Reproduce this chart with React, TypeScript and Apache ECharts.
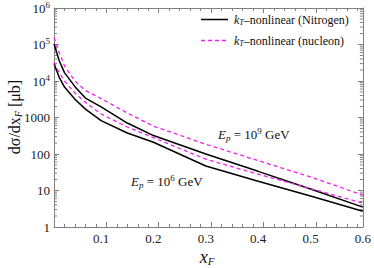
import React, { useEffect, useRef } from 'react';
import * as echarts from 'echarts';

const xF = [0.01, 0.02, 0.03, 0.05, 0.07, 0.1, 0.15, 0.2, 0.3, 0.4, 0.5, 0.6];
const nitrogenE9 = [105000, 36000, 17000, 7000, 3400, 1950, 705, 320, 100, 33.5, 11, 3.5];
const nucleonE9 = [155000, 60000, 26000, 10000, 5500, 3300, 1330, 580, 185, 66, 23.5, 7.5];
const nitrogenE6 = [30000, 12500, 6800, 3150, 1700, 820, 375, 210, 47, 18, 7.1, 2.7];
const nucleonE6 = [32000, 17000, 10000, 4700, 2600, 1250, 550, 280, 72, 28, 11.3, 4.5];
const xTickValues = [0.1, 0.2, 0.3, 0.4, 0.5, 0.6];

const yMinorTicks: number[] = [];
for (let e = 0; e < 6; e++) for (let m = 2; m <= 9; m++) yMinorTicks.push(m * Math.pow(10, e));

const SERIF = 'Liberation Serif';
const MAGENTA = '#f020f0';
const FRAME = '#808080';

export default function App() {
  const ref = useRef<HTMLDivElement>(null);
  useEffect(() => {
    if (!ref.current) return;
    const chart = echarts.init(ref.current, undefined, { renderer: 'svg' });
    const pair = (ys: number[]) => xF.map((x, i) => [x, ys[i]]);
    const xAxisBase = {
      type: 'value',
      min: 0.01,
      max: 0.6,
      axisLine: { show: true, lineStyle: { color: FRAME, width: 1 } },
      splitLine: { show: false },
    };
    const yAxisBase = {
      type: 'log',
      logBase: 10,
      min: 1,
      max: 1000000,
      interval: 1,
      axisLine: { show: true, lineStyle: { color: FRAME, width: 1 } },
      splitLine: { show: false },
      minorTick: { show: false },
    };
    const rich = {
      b: { fontFamily: SERIF, fontSize: 13, color: '#222', lineHeight: 16 },
      s: { fontFamily: SERIF, fontSize: 9, color: '#222', verticalAlign: 'top', lineHeight: 9 },
    };
    const txt = (size: number, extra: any = {}) => ({ fontFamily: SERIF, fontSize: size, fill: '#111', ...extra });
    chart.setOption({
      animation: false,
      textStyle: { fontFamily: SERIF },
      grid: { left: 54, right: 9, top: 8, bottom: 41 },
      xAxis: [
        {
          ...xAxisBase,
          position: 'bottom',
          axisTick: { show: true, inside: true, length: 5, lineStyle: { color: FRAME } },
          minorTick: { show: true, splitNumber: 5, length: 3, lineStyle: { color: FRAME } },
          axisLabel: {
            show: true,
            fontFamily: SERIF,
            fontSize: 13,
            color: '#222',
            margin: 5,
            customValues: xTickValues,
            formatter: (v: number) => String(Math.round(v * 10) / 10),
          },
          interval: 0.1,
        },
        {
          ...xAxisBase,
          position: 'top',
          axisTick: { show: true, inside: true, length: 5, lineStyle: { color: FRAME } },
          minorTick: { show: true, splitNumber: 5, length: 3, lineStyle: { color: FRAME } },
          axisLabel: { show: false },
          interval: 0.1,
        },
      ],
      yAxis: [
        {
          ...yAxisBase,
          position: 'left',
          axisTick: { show: true, inside: true, length: 5, lineStyle: { color: FRAME } },
          axisLabel: {
            show: true,
            margin: 4,
            fontFamily: SERIF,
            formatter: (v: number) => {
              const e = Math.round(Math.log10(v));
              if (e >= 4) return `{b|10}{s|${e}}`;
              return `{b|${Math.round(v)}}`;
            },
            rich,
          },
        },
        {
          ...yAxisBase,
          position: 'right',
          axisTick: { show: true, inside: true, length: 5, lineStyle: { color: FRAME } },
          axisLabel: { show: false },
        },
      ],
      series: [
        { type: 'line', name: 'Nitrogen 1e9', data: pair(nitrogenE9), showSymbol: false, lineStyle: { color: '#000', width: 1.5 } },
        { type: 'line', name: 'Nitrogen 1e6', data: pair(nitrogenE6), showSymbol: false, lineStyle: { color: '#000', width: 1.5 } },
        { type: 'line', name: 'nucleon 1e9', data: pair(nucleonE9), showSymbol: false, lineStyle: { color: MAGENTA, width: 1.3, type: [4, 3] } },
        { type: 'line', name: 'nucleon 1e6', data: pair(nucleonE6), showSymbol: false, lineStyle: { color: MAGENTA, width: 1.3, type: [4, 3] } },
        {
          type: 'custom',
          name: 'minorTicks',
          data: yMinorTicks.map((v) => [0.01, v]),
          silent: true,
          clip: false,
          renderItem: (params: any, api: any) => {
            const v = api.value(1);
            const l = api.coord([0.01, v]);
            const r = api.coord([0.6, v]);
            return {
              type: 'group',
              children: [
                { type: 'line', shape: { x1: l[0], y1: l[1], x2: l[0] + 3, y2: l[1] }, style: { stroke: FRAME, lineWidth: 1 } },
                { type: 'line', shape: { x1: r[0] - 3, y1: r[1], x2: r[0], y2: r[1] }, style: { stroke: FRAME, lineWidth: 1 } },
              ],
            };
          },
        },
      ],
      graphic: [
        { type: 'line', shape: { x1: 201, y1: 19.5, x2: 228, y2: 19.5 }, style: { stroke: '#000', lineWidth: 1.5 } },
        { type: 'line', shape: { x1: 201, y1: 40.5, x2: 228, y2: 40.5 }, style: { stroke: MAGENTA, lineWidth: 1.3, lineDash: [4, 3] } },
        {
          type: 'text',
          x: 234,
          y: 19.5,
          style: {
            text: '{i|k}{sub|T}{n|–nonlinear (Nitrogen)}',
            verticalAlign: 'middle',
            fontFamily: SERIF,
            rich: {
              i: txt(12, { fontStyle: 'italic', lineHeight: 14 }),
              sub: txt(8, { fontStyle: 'italic', verticalAlign: 'bottom', lineHeight: 8 }),
              n: txt(12, { lineHeight: 14 }),
            },
          },
        },
        {
          type: 'text',
          x: 234,
          y: 40.5,
          style: {
            text: '{i|k}{sub|T}{n|–nonlinear (nucleon)}',
            verticalAlign: 'middle',
            fontFamily: SERIF,
            rich: {
              i: txt(12, { fontStyle: 'italic', lineHeight: 14 }),
              sub: txt(8, { fontStyle: 'italic', verticalAlign: 'bottom', lineHeight: 8 }),
              n: txt(12, { lineHeight: 14 }),
            },
          },
        },
        {
          type: 'text',
          x: 218,
          y: 134,
          style: {
            text: '{i|E}{sub|p}{n| = 10}{sup|9}{n| GeV}',
            verticalAlign: 'middle',
            fontFamily: SERIF,
            rich: {
              i: txt(13, { fontStyle: 'italic', lineHeight: 16 }),
              sub: txt(9, { fontStyle: 'italic', verticalAlign: 'bottom', lineHeight: 8 }),
              sup: txt(9, { verticalAlign: 'top', lineHeight: 8 }),
              n: txt(13, { lineHeight: 16 }),
            },
          },
        },
        {
          type: 'text',
          x: 131,
          y: 181,
          style: {
            text: '{i|E}{sub|p}{n| = 10}{sup|6}{n| GeV}',
            verticalAlign: 'middle',
            fontFamily: SERIF,
            rich: {
              i: txt(13, { fontStyle: 'italic', lineHeight: 16 }),
              sub: txt(9, { fontStyle: 'italic', verticalAlign: 'bottom', lineHeight: 8 }),
              sup: txt(9, { verticalAlign: 'top', lineHeight: 8 }),
              n: txt(13, { lineHeight: 16 }),
            },
          },
        },
        {
          type: 'text',
          x: 14,
          y: 117,
          rotation: Math.PI / 2,
          style: {
            text: '{n|dσ/dx}{sub|F}{n| [μb]}',
            align: 'center',
            verticalAlign: 'middle',
            fontFamily: SERIF,
            rich: {
              n: txt(16, { lineHeight: 18 }),
              sub: txt(10, { fontStyle: 'italic', verticalAlign: 'bottom', lineHeight: 10 }),
            },
          },
        },
        {
          type: 'text',
          x: 207,
          y: 257,
          style: {
            text: '{i|x}{sub|F}',
            align: 'center',
            verticalAlign: 'middle',
            fontFamily: SERIF,
            rich: {
              i: txt(18, { fontStyle: 'italic', lineHeight: 18 }),
              sub: txt(11, { fontStyle: 'italic', verticalAlign: 'bottom', lineHeight: 10 }),
            },
          },
        },
      ],
    });
    return () => chart.dispose();
  }, []);
  return <div ref={ref} style={{ position: 'fixed', left: 0, top: 0, width: 374, height: 268, background: '#fff' }} />;
}
